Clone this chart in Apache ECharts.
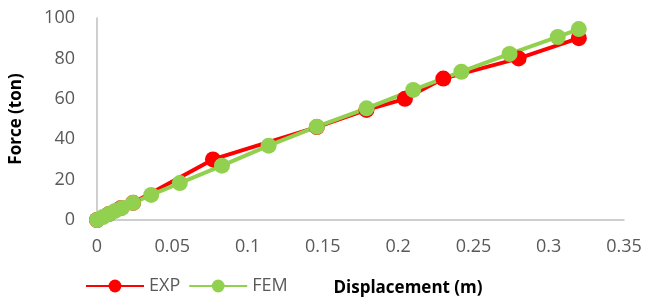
<!DOCTYPE html>
<html>
<head>
<meta charset="utf-8">
<script src="https://cdn.jsdelivr.net/npm/echarts@6/dist/echarts.min.js"></script>
<style>
  html, body { margin: 0; padding: 0; background: #fff; }
  #chart { width: 645px; height: 298px; }
</style>
</head>
<body>
<div id="chart"></div>
<script>
// 数据
var expDisp = [0, 0.008, 0.016, 0.024, 0.077, 0.146, 0.179, 0.2045, 0.23, 0.28, 0.32];
var expForce = [0, 3, 6, 8.5, 30, 46, 54.5, 60, 70, 80, 90];

var femDisp = [0, 0.004, 0.008, 0.012, 0.0166, 0.024, 0.036, 0.055, 0.083, 0.114, 0.146, 0.179, 0.21, 0.242, 0.274, 0.306, 0.32];
var femForce = [0, 1.5, 3, 4.5, 6, 8.5, 12.4, 18.3, 26.9, 36.8, 46.2, 55.3, 64.4, 73.4, 82.2, 90.6, 94.5];

var xTicks = [0, 0.05, 0.1, 0.15, 0.2, 0.25, 0.3, 0.35];
var yTicks = [0, 20, 40, 60, 80, 100];

function pairs(xs, ys) {
  return xs.map(function (x, i) { return [x, ys[i]]; });
}

var font = '"Open Sans", Lato, sans-serif';

var myChart = echarts.init(document.getElementById('chart'), null, { renderer: 'canvas' });

var option = {
  animation: false,
  textStyle: { fontFamily: font },
  grid: { left: 97, right: 21, top: 18, bottom: 78, outerBoundsMode: 'none', containLabel: false },
  legend: {
    left: 80,
    bottom: -2,
    itemWidth: 58,
    itemHeight: 16,
    itemGap: 8,
    textStyle: { fontSize: 18, color: '#595959', fontFamily: font },
    data: ['EXP', 'FEM']
  },
  xAxis: {
    type: 'value',
    min: xTicks[0],
    max: xTicks[xTicks.length - 1],
    interval: 0.05,
    name: 'Displacement (m)',
    nameLocation: 'middle',
    nameGap: 60,
    nameTextStyle: { fontSize: 17, fontWeight: 'bold', color: '#000', padding: [0, 0, 0, 95] },
    axisLine: { lineStyle: { color: '#bfbfbf', width: 1.5 } },
    axisTick: { show: false },
    splitLine: { show: false },
    axisLabel: { fontSize: 18, color: '#595959', margin: 18 }
  },
  yAxis: {
    type: 'value',
    min: yTicks[0],
    max: yTicks[yTicks.length - 1],
    interval: 20,
    name: 'Force (ton)',
    nameLocation: 'middle',
    nameGap: 72,
    nameTextStyle: { fontSize: 17, fontWeight: 'bold', color: '#000' },
    axisLine: { show: true, lineStyle: { color: '#bfbfbf', width: 1.5 } },
    axisTick: { show: false },
    splitLine: { show: false },
    axisLabel: { fontSize: 18, color: '#595959', margin: 22 }
  },
  series: [
    {
      name: 'EXP',
      type: 'line',
      data: pairs(expDisp, expForce),
      symbol: 'circle',
      symbolSize: 16,
      lineStyle: { color: '#ff0000', width: 4 },
      itemStyle: { color: '#ff0000' }
    },
    {
      name: 'FEM',
      type: 'line',
      data: pairs(femDisp, femForce),
      symbol: 'circle',
      symbolSize: 16,
      lineStyle: { color: '#92d050', width: 4 },
      itemStyle: { color: '#92d050' }
    }
  ]
};

myChart.setOption(option);
</script>
</body>
</html>
